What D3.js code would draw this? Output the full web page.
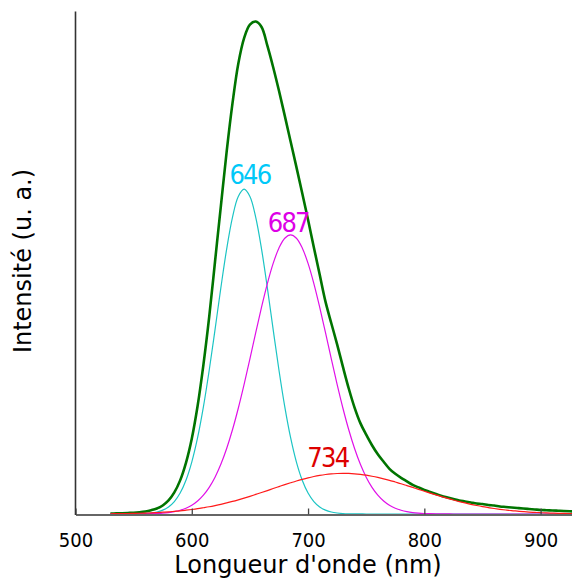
<!DOCTYPE html>
<html><head><meta charset="utf-8">
<script src="https://cdn.jsdelivr.net/npm/d3@7"></script>
<style>
html,body{margin:0;padding:0;background:#fff;}
svg{display:block;}
.tick text{font-family:"DejaVu Sans Condensed","Liberation Sans",sans-serif;}
</style></head>
<body>
<svg id="c" width="572" height="579"></svg>
<script>
// Wavelengths (nm), 5 nm step
const wavelength = d3.range(530, 931, 5);
// Measured spectrum (green)
const measured = [0.001,0.0012,0.0015,0.002,0.0025,0.0035,0.005,0.0075,0.011,0.017,
0.027,0.043,0.067,0.102,0.150,0.215,0.297,0.393,0.503,0.613,
0.722,0.818,0.897,0.948,0.975,0.981,0.970,0.933,0.890,0.843,
0.793,0.742,0.691,0.639,0.586,0.531,0.477,0.423,0.380,0.338,
0.293,0.250,0.212,0.181,0.158,0.137,0.119,0.104,0.090,0.080,
0.072,0.065,0.058,0.053,0.048,0.044,0.040,0.036,0.033,0.030,
0.027,0.025,0.023,0.021,0.020,0.018,0.017,0.015,0.014,0.013,
0.012,0.011,0.010,0.009,0.008,0.0075,0.007,0.0065,0.006,0.0055,0.005];
// Component 646 nm (cyan)
const comp646 = [0,0,0,0.0001,0.0002,0.0004,0.0009,0.0020,0.0040,0.0077,
0.0141,0.0248,0.0418,0.0673,0.1035,0.152,0.2134,0.2864,0.3674,0.4504,
0.5278,0.591,0.6325,0.647,0.6325,0.591,0.5278,0.4504,0.3674,0.2864,
0.2134,0.152,0.1035,0.0673,0.0418,0.0248,0.0141,0.0077,0.0040,0.0020,
0.0009,0.0004,0.0002,0.0001,0,0,0,0,0,0,
0,0,0,0,0,0,0,0,0,0,0,0,0,0,0,0,0,0,0,0,0,0,0,0,0,0,0,0,0,0,0];
// Component 687 nm (magenta)
const comp687 = [0,0,0,0,0.0001,0.0002,0.0003,0.0006,0.0010,0.0017,
0.0028,0.0046,0.0074,0.0115,0.0174,0.0259,0.0375,0.0531,0.0734,0.0990,
0.1305,0.1678,0.2107,0.2583,0.3091,0.3612,0.4121,0.459,0.4992,0.530,
0.5494,0.556,0.5494,0.530,0.4992,0.459,0.4121,0.3612,0.3091,0.2583,
0.2107,0.1678,0.1305,0.0990,0.0734,0.0531,0.0375,0.0259,0.0174,0.0115,
0.0074,0.0046,0.0028,0.0017,0.0010,0.0006,0.0003,0.0002,0.0001,0,
0,0,0,0,0,0,0,0,0,0,0,0,0,0,0,0,0,0,0,0,0];
// Component 734 nm (red)
const comp734 = [0.0005,0.0006,0.0007,0.0009,0.0012,0.0015,0.0019,0.0023,0.0029,0.0036,
0.0043,0.0053,0.0063,0.0076,0.0090,0.0106,0.0125,0.0145,0.0168,0.0193,
0.0221,0.0250,0.0282,0.0316,0.0352,0.0390,0.0428,0.0467,0.0507,0.0546,
0.0585,0.0622,0.0658,0.0691,0.0721,0.0747,0.0769,0.0787,0.0800,0.0807,
0.0810,0.0808,0.0801,0.0789,0.0773,0.0752,0.0728,0.0701,0.0671,0.0637,
0.0603,0.0566,0.0529,0.0491,0.0454,0.0416,0.0380,0.0345,0.0311,0.0278,
0.0248,0.0220,0.0193,0.0169,0.0147,0.0128,0.0110,0.0094,0.0080,0.0067,
0.0057,0.0047,0.0039,0.0032,0.0027,0.0022,0.0018,0.0014,0.0011,0.0009,0.0007];
const xTicks = [500,600,700,800,900];
const peakLabels = ["646","687","734"];
const labelX = [650, 683, 717];      // label centre (nm)
const labelY = [0.658, 0.561, 0.094]; // label baseline (a.u.)

const svg = d3.select("#c");
const x = d3.scaleLinear().domain([500, 927]).range([75.5, 572]);
const y = d3.scaleLinear().domain([0, 1]).range([514, 12]);

const line = (vals) => d3.line()
  .x((d,i)=>x(wavelength[i]))
  .y(d=>y(d))
  .curve(d3.curveCatmullRom)(vals);

svg.append("defs").append("clipPath").attr("id","clip")
  .append("rect").attr("x",75.5).attr("y",0).attr("width",500).attr("height",514);
const g = svg.append("g").attr("clip-path","url(#clip)");

g.append("path").attr("d", line(measured)).attr("fill","none")
  .attr("stroke","#007400").attr("stroke-width",2.6).attr("stroke-linejoin","round");
g.append("path").attr("d", line(comp646)).attr("fill","none")
  .attr("stroke","#1cc4c4").attr("stroke-width",1.2);
g.append("path").attr("d", line(comp687)).attr("fill","none")
  .attr("stroke","#e010e8").attr("stroke-width",1.2);
g.append("path").attr("d", line(comp734)).attr("fill","none")
  .attr("stroke","#ff1a1a").attr("stroke-width",1.2);

// axes
const xAxis = d3.axisBottom(x).tickValues(xTicks).tickSizeInner(-6).tickSizeOuter(0).tickPadding(14);
const ax = svg.append("g").attr("transform","translate(0,514.5)").call(xAxis);
ax.select(".domain").attr("stroke","#333").attr("stroke-width",1.6);
ax.selectAll(".tick line").attr("stroke","#444").attr("stroke-width",1.3);
ax.selectAll(".tick text").attr("font-size",20).attr("fill","#000").attr("dy","0.9em");
svg.append("line").attr("x1",75.5).attr("x2",75.5).attr("y1",11.5).attr("y2",515)
  .attr("stroke","#333").attr("stroke-width",1.6);

// titles
svg.append("text").attr("x",308).attr("y",573).attr("text-anchor","middle")
  .attr("font-family","DejaVu Sans").attr("font-size",24).text("Longueur d'onde (nm)");
svg.append("text").attr("transform","translate(31,261) rotate(-90)").attr("text-anchor","middle")
  .attr("font-family","DejaVu Sans").attr("font-size",24).text("Intensité (u. a.)");

// peak labels
const labelColors = ["#00c8f8","#dd00e6","#dd0000"];
svg.selectAll("text.pk").data(peakLabels).enter().append("text").attr("class","pk")
  .attr("x",(d,i)=>x(labelX[i])).attr("y",(d,i)=>y(labelY[i]))
  .attr("text-anchor","middle")
  .attr("font-family","'DejaVu Sans Condensed','Liberation Sans',sans-serif")
  .attr("font-size",27).attr("letter-spacing",-1.8)
  .attr("fill",(d,i)=>labelColors[i]).text(d=>d);
</script>
</body></html>
